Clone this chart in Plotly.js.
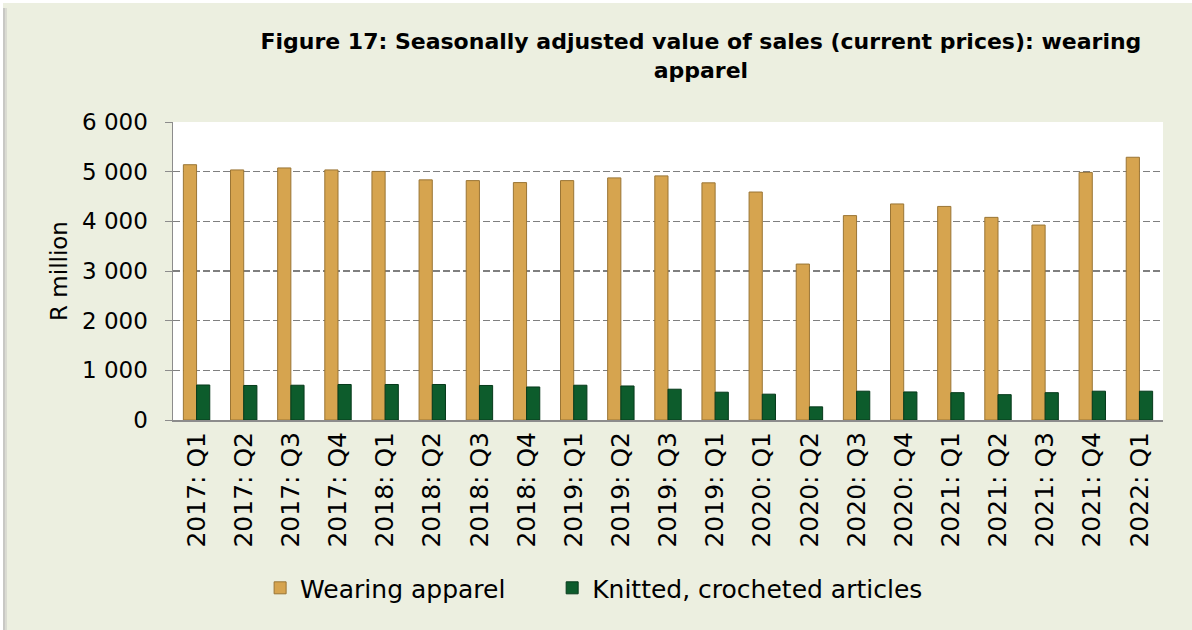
<!DOCTYPE html>
<html>
<head>
<meta charset="utf-8">
<script src="https://cdn.plot.ly/plotly-3.0.1.min.js"></script>
<style>
html,body{margin:0;padding:0;background:#ECEFE0;}
#chart{width:1192px;height:630px;}
</style>
</head>
<body>
<div id="chart"></div>
<script>
const categories = ["2017: Q1","2017: Q2","2017: Q3","2017: Q4","2018: Q1","2018: Q2","2018: Q3","2018: Q4","2019: Q1","2019: Q2","2019: Q3","2019: Q1","2020: Q1","2020: Q2","2020: Q3","2020: Q4","2021: Q1","2021: Q2","2021: Q3","2021: Q4","2022: Q1"];
const wearingApparel = [5140,5035,5075,5035,5005,4835,4820,4780,4820,4875,4915,4775,4590,3140,4115,4350,4300,4080,3925,4985,5290];
const knittedArticles = [705,695,700,715,715,715,695,665,700,685,620,560,520,265,580,565,550,510,550,580,580];
const seriesNames = ["Wearing apparel","Knitted, crocheted articles"];
const titleText = "<b>Figure 17: Seasonally adjusted value of sales (current prices): wearing<br>apparel</b>";
const yTitle = "R million";

const positions = categories.map((c, i) => i);
const fontFam = "'DejaVu Sans', sans-serif";

const traces = [
  {type:"bar", name:seriesNames[0], x:positions, y:wearingApparel, legend:"legend",
   marker:{color:"#D6A44F", line:{color:"#9A7535", width:1}}},
  {type:"bar", name:seriesNames[1], x:positions, y:knittedArticles, legend:"legend2",
   marker:{color:"#0D5C2C", line:{color:"#063A1B", width:1}}}
];

const legendBase = {orientation:"h", xanchor:"left", y:-0.564, yanchor:"middle",
  font:{size:25, family:fontFam, color:"#000"}, bgcolor:"rgba(0,0,0,0)", itemwidth:30};

// frame decoration (pixel -> paper conversion)
const L = 173, W = 990, B = 420, H = 298;
const px = v => (v - L) / W;
const py = v => (B - v) / H;

const layout = {
  width:1192, height:630,
  paper_bgcolor:"#ECEFE0",
  plot_bgcolor:"#FFFFFF",
  separators:". ",
  margin:{l:173, r:29, t:122, b:210},
  barmode:"group",
  bargap:0.44,
  bargroupgap:0,
  title:{text:titleText, x:0.588, xanchor:"center", y:0.922, yanchor:"top",
         font:{family:fontFam, size:22, color:"#000"}},
  font:{family:fontFam, color:"#000"},
  xaxis:{range:[-0.5, categories.length-0.5], tickmode:"array", tickvals:positions, ticktext:categories,
         tickangle:-90, tickfont:{size:25, family:fontFam, color:"#000"},
         showline:true, linecolor:"#8C8C8C", linewidth:2, ticks:"", showgrid:false,
         zeroline:false, automargin:false},
  yaxis:{range:[0,6000], dtick:1000, tickformat:",d",
         tickfont:{size:23, family:fontFam, color:"#000"},
         showline:true, linecolor:"#8C8C8C", linewidth:1.5,
         ticks:"outside", ticklen:7, tickcolor:"#8C8C8C", ticklabelstandoff:12,
         showgrid:true, gridcolor:"#7F7F7F", griddash:"7px,3px", gridwidth:1.5,
         zeroline:false,
         title:{text:yTitle, font:{size:23, family:fontFam, color:"#000"}, standoff:8},
         automargin:false},
  legend:Object.assign({}, legendBase, {x:0.088}),
  legend2:Object.assign({}, legendBase, {x:0.383}),
  shapes:[
    {type:"rect", xref:"paper", yref:"paper", x0:px(0), x1:px(3), y0:py(0), y1:py(630), fillcolor:"#FFFFFF", line:{width:0}, layer:"below"},
    {type:"rect", xref:"paper", yref:"paper", x0:px(0), x1:px(1192), y0:py(0), y1:py(3), fillcolor:"#FFFFFF", line:{width:0}, layer:"below"},
    {type:"rect", xref:"paper", yref:"paper", x0:px(3), x1:px(5), y0:py(8), y1:py(630), fillcolor:"#C8C8C4", line:{width:0}, layer:"below"},
    {type:"rect", xref:"paper", yref:"paper", x0:px(5), x1:px(7), y0:py(8), y1:py(630), fillcolor:"#DADBD2", line:{width:0}, layer:"below"}
  ],
  showlegend:true
};

Plotly.newPlot("chart", traces, layout, {displayModeBar:false, staticPlot:true});
</script>
</body>
</html>
